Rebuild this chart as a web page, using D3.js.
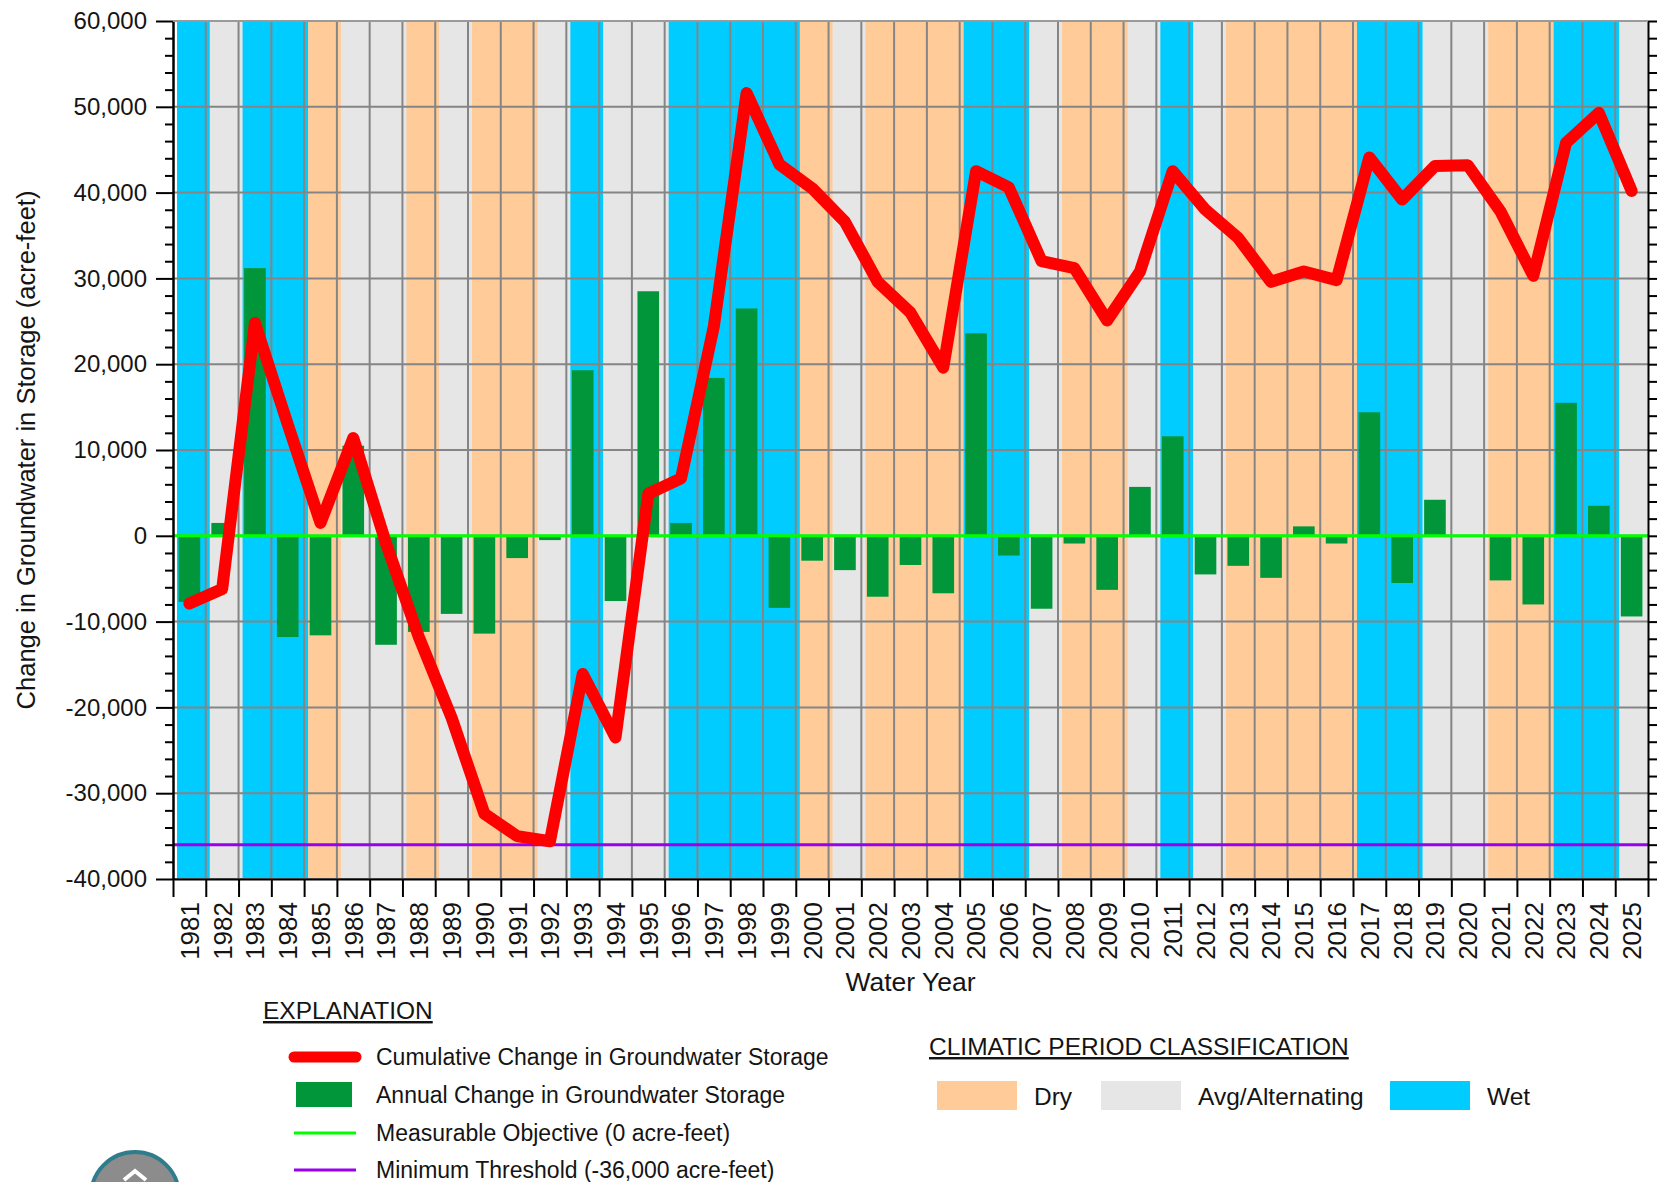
<!DOCTYPE html>
<html>
<head>
<meta charset="utf-8">
<script src="https://cdn.jsdelivr.net/npm/d3@7"></script>
<style>
body { margin: 0; background: #fff; }
svg text { font-family: "Liberation Sans", Arial, sans-serif; fill: #141414; }
</style>
</head>
<body>
<svg id="chart" width="1660" height="1182"></svg>
<script>
// water years and their climatic period classification
var years = [1981, 1982, 1983, 1984, 1985, 1986, 1987, 1988, 1989, 1990,
	1991, 1992, 1993, 1994, 1995, 1996, 1997, 1998, 1999, 2000,
	2001, 2002, 2003, 2004, 2005, 2006, 2007, 2008, 2009, 2010,
	2011, 2012, 2013, 2014, 2015, 2016, 2017, 2018, 2019, 2020,
	2021, 2022, 2023, 2024, 2025];

var climate = ["Wet", "Avg", "Wet", "Wet", "Dry", "Avg", "Avg", "Dry", "Avg", "Dry",
	"Dry", "Avg", "Wet", "Avg", "Avg", "Wet", "Wet", "Wet", "Wet", "Dry",
	"Avg", "Dry", "Dry", "Dry", "Wet", "Wet", "Avg", "Dry", "Dry", "Avg",
	"Wet", "Avg", "Dry", "Dry", "Dry", "Dry", "Wet", "Wet", "Avg", "Avg",
	"Dry", "Dry", "Wet", "Wet", "Avg"];

// annual change in groundwater storage (acre-feet)
var annual = [-7700, 1500, 31200, -11800, -11600, 10500, -12700, -11200, -9100, -11400,
	-2600, -500, 19300, -7600, 28500, 1500, 18400, 26500, -8400, -2900,
	-4000, -7100, -3400, -6700, 23600, -2300, -8500, -900, -6300, 5700,
	11600, -4500, -3500, -4900, 1100, -900, 14400, -5500, 4200, 0,
	-5200, -8000, 15500, 3500, -9400];

// cumulative change in groundwater storage (acre-feet)
var cumulative = [-7900, -6200, 24800, 13000, 1500, 11400, -900, -11800, -21200, -32400,
	-35000, -35600, -16100, -23500, 4900, 6700, 24400, 51600, 43300, 40500,
	36600, 29600, 26000, 19600, 42500, 40600, 32000, 31200, 25100, 30800,
	42500, 38000, 34700, 29600, 30800, 29800, 44100, 39200, 43100, 43200,
	37800, 30300, 45800, 49300, 40200];

var yTicks = [-40000, -30000, -20000, -10000, 0, 10000, 20000, 30000, 40000, 50000, 60000];
var measurableObjective = 0;
var minimumThreshold = -36000;

var climateColor = {"Dry": "#ffcc99", "Avg": "#e6e6e6", "Wet": "#00ccff"};

var plot = {left: 173, right: 1648, top: 21, bottom: 879};
var bandShift = 4;

var svg = d3.select("#chart");

var x = d3.scaleBand().domain(years).range([plot.left, plot.right]).padding(0);
var xl = d3.scaleLinear().domain([years[0], years[years.length - 1] + 1]).range([plot.left, plot.right]);
var y = d3.scaleLinear().domain([-40000, 60000]).range([plot.bottom, plot.top]);
var bw = x.bandwidth();

function fmt(d) {
	return (d < 0 ? "-" : "") + d3.format(",")(Math.abs(d));
}

svg.append("defs").append("clipPath").attr("id", "plotClip")
	.append("rect")
	.attr("x", plot.left).attr("y", plot.top)
	.attr("width", plot.right - plot.left).attr("height", plot.bottom - plot.top);

var g = svg.append("g").attr("clip-path", "url(#plotClip)");

// climatic period background bands
g.selectAll("rect.band")
	.data(years)
	.enter().append("rect")
	.attr("class", "band")
	.attr("x", function(d) { return x(d) + bandShift; })
	.attr("y", plot.top)
	.attr("width", bw + 0.5)
	.attr("height", plot.bottom - plot.top)
	.attr("fill", function(d, i) { return climateColor[climate[i]]; });

// grid
g.selectAll("line.vgrid")
	.data(xl.ticks(50).filter(function(d) { return d > years[0] && d <= years[years.length - 1]; }))
	.enter().append("line")
	.attr("x1", function(d) { return xl(d); })
	.attr("x2", function(d) { return xl(d); })
	.attr("y1", plot.top).attr("y2", plot.bottom)
	.attr("stroke", "#858585").attr("stroke-width", 2);

g.selectAll("line.hgrid")
	.data(yTicks)
	.enter().append("line")
	.attr("x1", plot.left).attr("x2", plot.right)
	.attr("y1", function(d) { return y(d); })
	.attr("y2", function(d) { return y(d); })
	.attr("stroke", "#858585").attr("stroke-width", 2);

// annual change bars
g.selectAll("rect.bar")
	.data(years)
	.enter().append("rect")
	.attr("class", "bar")
	.attr("x", function(d) { return x(d) + bw * 0.17; })
	.attr("width", bw * 0.66)
	.attr("y", function(d, i) { return y(Math.max(0, annual[i])); })
	.attr("height", function(d, i) { return Math.abs(y(annual[i]) - y(0)); })
	.attr("fill", "#009639");

// measurable objective and minimum threshold
g.append("line")
	.attr("x1", plot.left).attr("x2", plot.right)
	.attr("y1", y(measurableObjective)).attr("y2", y(measurableObjective))
	.attr("stroke", "#00ff00").attr("stroke-width", 3);

g.append("line")
	.attr("x1", plot.left).attr("x2", plot.right)
	.attr("y1", y(minimumThreshold)).attr("y2", y(minimumThreshold))
	.attr("stroke", "#9900ee").attr("stroke-width", 3);

// cumulative change line
var line = d3.line()
	.x(function(d, i) { return x(years[i]) + bw / 2; })
	.y(function(d) { return y(d); });

svg.append("path")
	.datum(cumulative)
	.attr("d", line)
	.attr("fill", "none")
	.attr("stroke", "#ff0000")
	.attr("stroke-width", 12)
	.attr("stroke-linejoin", "round")
	.attr("stroke-linecap", "round");

// axes
var minorTicks = d3.range(-40000, 60001, 2000).filter(function(d) { return d % 10000 !== 0; });

var leftAxis = svg.append("g")
	.attr("transform", "translate(" + plot.left + ",0)")
	.call(d3.axisLeft(y).tickValues(yTicks).tickSize(17).tickSizeOuter(0).tickPadding(9).tickFormat(fmt));
leftAxis.selectAll("text").style("font-size", "24px");

svg.append("g")
	.attr("transform", "translate(" + plot.left + ",0)")
	.call(d3.axisLeft(y).tickValues(minorTicks).tickSize(8).tickSizeOuter(0).tickFormat(""));

svg.append("g")
	.attr("transform", "translate(" + plot.right + ",0)")
	.call(d3.axisRight(y).tickValues(minorTicks.concat(yTicks)).tickSize(9).tickSizeOuter(0).tickFormat(""));

svg.append("g")
	.attr("transform", "translate(0," + plot.bottom + ")")
	.call(d3.axisBottom(xl).tickValues(d3.range(years[0], years[years.length - 1] + 2)).tickSize(18).tickSizeOuter(0).tickFormat(""));

var bottomAxis = svg.append("g")
	.attr("transform", "translate(0," + plot.bottom + ")")
	.call(d3.axisBottom(x).tickSize(0).tickSizeOuter(0));
bottomAxis.select(".domain").remove();
bottomAxis.selectAll("text")
	.style("font-size", "26px")
	.attr("transform", "rotate(-90)")
	.attr("text-anchor", "end")
	.attr("x", -23)
	.attr("y", 0)
	.attr("dy", "0.36em");

svg.selectAll(".domain, .tick line")
	.attr("stroke", "#000")
	.attr("stroke-width", 2);

// top border
svg.append("line")
	.attr("x1", plot.left).attr("x2", plot.right)
	.attr("y1", plot.top).attr("y2", plot.top)
	.attr("stroke", "#9a9a9a").attr("stroke-width", 2);

// axis titles
svg.append("text")
	.attr("transform", "translate(26," + ((plot.top + plot.bottom) / 2) + ") rotate(-90)")
	.attr("text-anchor", "middle")
	.attr("dominant-baseline", "central")
	.style("font-size", "25.5px")
	.text("Change in Groundwater in Storage (acre-feet)");

svg.append("text")
	.attr("x", (plot.left + plot.right) / 2)
	.attr("y", 991)
	.attr("text-anchor", "middle")
	.style("font-size", "26.5px")
	.text("Water Year");

// explanation legend
svg.append("text")
	.attr("x", 263).attr("y", 1019)
	.style("font-size", "24.5px")
	.style("text-decoration", "underline")
	.text("EXPLANATION");

var legendItems = [
	{label: "Cumulative Change in Groundwater Storage", type: "line", color: "#ff0000", w: 11, y: 1057},
	{label: "Annual Change in Groundwater Storage", type: "rect", color: "#009639", y: 1095},
	{label: "Measurable Objective (0 acre-feet)", type: "line", color: "#00ff00", w: 3, y: 1133},
	{label: "Minimum Threshold (-36,000 acre-feet)", type: "line", color: "#9900ee", w: 3, y: 1170}
];

legendItems.forEach(function(d) {
	if (d.type === "line") {
		svg.append("line")
			.attr("x1", 294).attr("x2", 356)
			.attr("y1", d.y).attr("y2", d.y)
			.attr("stroke", d.color).attr("stroke-width", d.w)
			.attr("stroke-linecap", d.w > 5 ? "round" : "butt");
	} else {
		svg.append("rect")
			.attr("x", 296).attr("y", d.y - 13)
			.attr("width", 56).attr("height", 25)
			.attr("fill", d.color);
	}
	svg.append("text")
		.attr("x", 376).attr("y", d.y)
		.attr("dominant-baseline", "central")
		.style("font-size", "23px")
		.text(d.label);
});

// climatic period legend
svg.append("text")
	.attr("x", 929).attr("y", 1055)
	.style("font-size", "24.5px")
	.style("text-decoration", "underline")
	.text("CLIMATIC PERIOD CLASSIFICATION");

var climateLegend = [
	{label: "Dry", key: "Dry", x: 937},
	{label: "Avg/Alternating", key: "Avg", x: 1101},
	{label: "Wet", key: "Wet", x: 1390}
];

climateLegend.forEach(function(d) {
	svg.append("rect")
		.attr("x", d.x).attr("y", 1081)
		.attr("width", 80).attr("height", 29)
		.attr("fill", climateColor[d.key]);
	svg.append("text")
		.attr("x", d.x + 97).attr("y", 1096)
		.attr("dominant-baseline", "central")
		.style("font-size", "24.5px")
		.text(d.label);
});

// logo, cut off by the bottom edge
svg.append("circle")
	.attr("cx", 135).attr("cy", 1196).attr("r", 44)
	.attr("fill", "#8c8c8c")
	.attr("stroke", "#2f7d8c").attr("stroke-width", 4);
svg.append("path")
	.attr("d", "M124,1180 L135,1171 L146,1180")
	.attr("fill", "none")
	.attr("stroke", "#fff").attr("stroke-width", 4);
</script>
</body>
</html>
